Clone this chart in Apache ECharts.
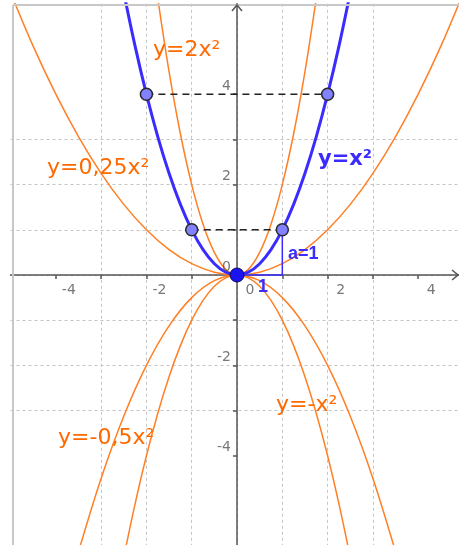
<!DOCTYPE html>
<html>
<head>
<meta charset="utf-8">
<script src="https://cdn.jsdelivr.net/npm/echarts@6/dist/echarts.min.js"></script>
<style>
  html, body { margin: 0; padding: 0; background: #fff; }
  #main { width: 459px; height: 545px; }
</style>
</head>
<body>
<div id="main"></div>
<script>
// parabolas y = a·x²
const xNarrow = [-1.75, -1.5, -1.25, -1, -0.75, -0.5, -0.25, 0, 0.25, 0.5, 0.75, 1, 1.25, 1.5, 1.75];
const yTwoX2 = [6.125, 4.5, 3.125, 2, 1.125, 0.5, 0.125, 0, 0.125, 0.5, 1.125, 2, 3.125, 4.5, 6.125];

const xMid = [-2.5, -2.25, -2, -1.75, -1.5, -1.25, -1, -0.75, -0.5, -0.25, 0, 0.25, 0.5, 0.75, 1, 1.25, 1.5, 1.75, 2, 2.25, 2.5];
const yX2 = [6.25, 5.0625, 4, 3.0625, 2.25, 1.5625, 1, 0.5625, 0.25, 0.0625, 0, 0.0625, 0.25, 0.5625, 1, 1.5625, 2.25, 3.0625, 4, 5.0625, 6.25];
const yMinusX2 = [-6.25, -5.0625, -4, -3.0625, -2.25, -1.5625, -1, -0.5625, -0.25, -0.0625, 0, -0.0625, -0.25, -0.5625, -1, -1.5625, -2.25, -3.0625, -4, -5.0625, -6.25];

const xWide = [-5, -4.5, -4, -3.5, -3, -2.5, -2, -1.5, -1, -0.5, 0, 0.5, 1, 1.5, 2, 2.5, 3, 3.5, 4, 4.5, 5];
const yQuarterX2 = [6.25, 5.0625, 4, 3.0625, 2.25, 1.5625, 1, 0.5625, 0.25, 0.0625, 0, 0.0625, 0.25, 0.5625, 1, 1.5625, 2.25, 3.0625, 4, 5.0625, 6.25];

const xHalf = [-3.5, -3, -2.5, -2, -1.5, -1, -0.5, 0, 0.5, 1, 1.5, 2, 2.5, 3, 3.5];
const yMinusHalfX2 = [-6.125, -4.5, -3.125, -2, -1.125, -0.5, -0.125, 0, -0.125, -0.5, -1.125, -2, -3.125, -4.5, -6.125];

// points on y = x² and the origin
const pointX = [-2, 2, -1, 1];
const pointY = [4, 4, 1, 1];
const originX = [0];
const originY = [0];

// slope triangle a=1
const triangleX = [0, 1, 1];
const triangleY = [0, 0, 1];

// ticks and labels
const tickValues = [-4, -3, -2, -1, 0, 1, 2, 3, 4];
const labelValues = [-4, -2, 0, 2, 4];

const zip = (xs, ys) => xs.map((x, i) => [x, ys[i]]);

const ORANGE = '#ff7f24';
const ORANGE_TEXT = '#ff6a00';
const BLUE = '#3a2cff';
const AXIS = '#555';

function curve(xs, ys, color, width, z) {
    return {
        type: 'line',
        data: zip(xs, ys),
        showSymbol: false,
        smooth: 0.35,
        lineStyle: { color: color, width: width },
        z: z,
        silent: true
    };
}

function dashed(y) {
    // horizontal dashed segment between the two points at height y
    const xs = pointX.filter((x, i) => pointY[i] === y);
    return {
        type: 'line',
        data: xs.map(x => [x, y]),
        showSymbol: false,
        lineStyle: { color: '#222', width: 1.5, type: [7, 5] },
        z: 6,
        silent: true
    };
}

// tick labels sit on the axes crossing at zero, so they ride on the data scale
function tickLabels(data, align, offset) {
    return {
        type: 'scatter',
        data: data,
        symbolSize: 1,
        itemStyle: { color: 'transparent' },
        label: {
            show: true,
            position: 'inside',
            align: align,
            verticalAlign: 'middle',
            offset: offset,
            color: AXIS,
            fontSize: 14,
            fontFamily: 'DejaVu Sans',
            formatter: p => String(p.value[2])
        },
        z: 12,
        silent: true
    };
}

const chart = echarts.init(document.getElementById('main'), null, { renderer: 'canvas' });

const axisCommon = {
    type: 'value',
    interval: 1,
    axisLine: { onZero: true, lineStyle: { color: AXIS, width: 1.5 } },
    axisTick: { show: true, customValues: tickValues, length: 4, lineStyle: { color: AXIS, width: 1.5 } },
    axisLabel: { show: false },
    splitLine: {
        show: true,
        showMinLine: false,
        showMaxLine: false,
        lineStyle: { color: '#c4c4c4', width: 1, type: [3, 3] }
    }
};

const option = {
    animation: false,
    grid: { left: 10.5, right: 0, top: 3.8, bottom: -1.2, outerBoundsMode: 'none', containLabel: false },
    xAxis: Object.assign({}, axisCommon, { min: -5, max: 4.9 }),
    yAxis: Object.assign({}, axisCommon, { min: -6, max: 6 }),
    series: [
        curve(xWide, yQuarterX2, ORANGE, 1.5, 3),
        curve(xNarrow, yTwoX2, ORANGE, 1.5, 3),
        curve(xMid, yMinusX2, ORANGE, 1.5, 3),
        curve(xHalf, yMinusHalfX2, ORANGE, 1.5, 3),
        curve(xMid, yX2, BLUE, 3, 4),
        dashed(4),
        dashed(1),
        {
            type: 'line',
            data: zip(triangleX, triangleY),
            showSymbol: false,
            lineStyle: { color: BLUE, width: 1.5 },
            z: 5,
            silent: true
        },
        {
            type: 'scatter',
            data: zip(pointX, pointY),
            symbolSize: 12,
            itemStyle: { color: '#8282ff', borderColor: '#2a2a2a', borderWidth: 1.5, opacity: 1 },
            z: 10,
            silent: true
        },
        {
            type: 'scatter',
            data: zip(originX, originY),
            symbolSize: 14,
            itemStyle: { color: '#1c14f0', borderColor: '#0a0a55', borderWidth: 1, opacity: 1 },
            z: 11,
            silent: true
        },
        tickLabels(labelValues.map(v => [v, 0, v]), 'center', [13, 15]),
        tickLabels(labelValues.map(v => [0, v, v]), 'right', [-6, -8])
    ],
    graphic: [
        // frame on the left and top
        { type: 'line', shape: { x1: 13, y1: 5, x2: 13, y2: 545 }, style: { stroke: '#c8c8c8', lineWidth: 2 }, z: 20 },
        { type: 'line', shape: { x1: 13, y1: 5, x2: 459, y2: 5 }, style: { stroke: '#c8c8c8', lineWidth: 2 }, z: 20 },
        // axis arrows
        { type: 'polyline', shape: { points: [[232, 11], [237, 5], [242, 11]] }, style: { stroke: AXIS, lineWidth: 1.5, fill: null }, z: 20 },
        { type: 'polyline', shape: { points: [[452, 270], [458, 275], [452, 280]] }, style: { stroke: AXIS, lineWidth: 1.5, fill: null }, z: 20 },
        // curve captions
        { type: 'text', x: 153, y: 50, style: { text: 'y=2x²', font: '22px "DejaVu Sans"', fill: ORANGE_TEXT, verticalAlign: 'middle' }, z: 30 },
        { type: 'text', x: 47, y: 168, style: { text: 'y=0,25x²', font: '22px "DejaVu Sans"', fill: ORANGE_TEXT, verticalAlign: 'middle' }, z: 30 },
        { type: 'text', x: 318, y: 160, style: { text: 'y=x²', font: 'bold 21px "DejaVu Sans"', fill: BLUE, verticalAlign: 'middle' }, z: 30 },
        { type: 'text', x: 276, y: 405, style: { text: 'y=-x²', font: '22px "DejaVu Sans"', fill: ORANGE_TEXT, verticalAlign: 'middle' }, z: 30 },
        { type: 'text', x: 58, y: 438, style: { text: 'y=-0,5x²', font: '22px "DejaVu Sans"', fill: ORANGE_TEXT, verticalAlign: 'middle' }, z: 30 },
        { type: 'text', x: 288, y: 254, style: { text: 'a=1', font: 'bold 18px "Liberation Sans"', fill: BLUE, verticalAlign: 'middle' }, z: 30 },
        { type: 'text', x: 258, y: 287, style: { text: '1', font: 'bold 18px "Liberation Sans"', fill: BLUE, verticalAlign: 'middle' }, z: 30 }
    ]
};

chart.setOption(option);
</script>
</body>
</html>
